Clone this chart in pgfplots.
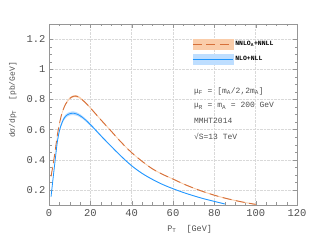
\documentclass[border=0pt]{standalone}
\usepackage{fontspec}
\setmainfont{Liberation Mono}
\usepackage{pgfplots}
\usepackage{pgfplotstable}
\pgfplotsset{compat=1.18}
\usepgfplotslibrary{fillbetween}
\definecolor{orline}{RGB}{214,112,58}
\definecolor{orband}{RGB}{250,205,170}
\definecolor{blline}{RGB}{30,150,255}
\definecolor{blband}{RGB}{190,222,255}
\definecolor{axgray}{RGB}{150,150,150}
\definecolor{txtgray}{RGB}{80,80,80}

\pgfplotstableread{
pt mid err
1 0.290 0.003
2 0.370 0.003
3 0.460 0.004
4 0.560 0.004
5 0.635 0.005
6 0.695 0.005
7 0.737 0.006
8 0.768 0.006
9 0.790 0.006
10 0.806 0.006
11 0.816 0.006
12 0.821 0.006
13 0.822 0.006
14 0.818 0.006
15 0.810 0.006
16 0.799 0.005
18 0.773 0.005
20 0.744 0.005
22 0.713 0.004
24.5 0.674 0.004
27 0.636 0.004
30 0.591 0.004
35 0.515 0.003
40 0.447 0.003
45 0.390 0.003
50 0.340 0.003
55 0.303 0.003
60 0.272 0.003
65 0.240 0.003
70 0.212 0.003
75 0.187 0.003
80 0.165 0.003
85 0.146 0.003
90 0.130 0.003
95 0.116 0.003
100 0.104 0.003
}\orangetab

\pgfplotstableread{
pt mid err
1 0.156 0.004
2 0.280 0.006
3 0.400 0.008
4 0.515 0.010
5 0.590 0.011
6 0.635 0.012
7 0.668 0.012
8 0.688 0.012
9 0.699 0.012
10 0.705 0.012
11 0.708 0.012
12 0.708 0.012
13 0.705 0.012
14 0.700 0.011
15 0.692 0.011
16 0.683 0.010
18 0.660 0.009
20 0.633 0.008
22 0.605 0.007
24.5 0.568 0.006
27 0.532 0.006
30 0.490 0.005
35 0.422 0.005
40 0.360 0.004
45 0.310 0.004
50 0.270 0.004
55 0.236 0.003
60 0.208 0.003
65 0.183 0.003
70 0.161 0.003
75 0.141 0.003
80 0.124 0.003
85 0.107 0.003
}\bluetab

\begin{document}
\begin{tikzpicture}
\begin{axis}[
  at={(49bp,37bp)}, anchor=south west,
  scale only axis, width=248bp, height=181bp,
  xmin=0, xmax=120, ymin=0.1, ymax=1.3,
  xtick={0,20,40,60,80,100,120},
  ytick={0.2,0.4,0.6,0.8,1,1.2},
  minor x tick num=3, minor y tick num=3,
  tick align=inside,
  major tick length=4bp, minor tick length=2.5bp,
  tick style={axgray},
  axis line style={axgray},
  grid=major, grid style={densely dotted, gray!30},
  /pgf/number format/assume math mode=true,
  ticklabel style={font=\fontsize{10.5}{12}\selectfont, text=txtgray},
  xticklabel style={yshift=-1bp},
  xlabel={P\textsubscript{T}\ \ [GeV]},
  xlabel style={font=\fontsize{8.5}{10}\selectfont, text=txtgray, at={(axis description cs:0.567,0)}, anchor=north, yshift=-17bp},
  ylabel={dσ/dp\textsubscript{T}\ \ [pb/GeV]},
  ylabel style={font=\fontsize{8}{10}\selectfont, text=txtgray, at={(axis description cs:-0.146,0.58)}, anchor=center},
  legend style={at={(0.565,0.93)}, anchor=north west, draw=none, fill=none,
    font=\bfseries\fontsize{6.5}{8}\selectfont, row sep=5bp},
  legend cell align=left,
]
\addlegendimage{legend image code/.code={
  \fill[orband] (0bp,-5bp) rectangle (40bp,5bp);
  \draw[orline, line width=1pt, dash pattern=on 9bp off 4.5bp] (0bp,0bp) -- (40bp,0bp);}}
\addlegendentry{NNLO\textsubscript{A}+NNLL}
\addlegendimage{legend image code/.code={
  \fill[blband] (0bp,-5bp) rectangle (40bp,5bp);
  \draw[blline, line width=0.8pt] (0bp,0bp) -- (40bp,0bp);}}
\addlegendentry{NLO+NLL}

\addplot[name path=ohi, draw=none, forget plot, smooth] table[x=pt, y expr=\thisrow{mid}+\thisrow{err}]{\orangetab};
\addplot[name path=olo, draw=none, forget plot, smooth] table[x=pt, y expr=\thisrow{mid}-\thisrow{err}]{\orangetab};
\addplot[orband, forget plot] fill between[of=ohi and olo];
\addplot[name path=bhi, draw=none, forget plot, smooth] table[x=pt, y expr=\thisrow{mid}+\thisrow{err}]{\bluetab};
\addplot[name path=blo, draw=none, forget plot, smooth] table[x=pt, y expr=\thisrow{mid}-\thisrow{err}]{\bluetab};
\addplot[blband, forget plot] fill between[of=bhi and blo];

\addplot[orline, line width=0.9pt, dash pattern=on 9bp off 4.5bp, smooth, forget plot] table[x=pt, y=mid]{\orangetab};
\addplot[blline, line width=0.8pt, smooth, forget plot] table[x=pt, y=mid]{\bluetab};

\node[anchor=west, font=\fontsize{8}{10}\selectfont, text=txtgray] at (axis cs:68.5,0.855) {μ\textsubscript{F} = [m\textsubscript{A}/2,2m\textsubscript{A}]};
\node[anchor=west, font=\fontsize{8}{10}\selectfont, text=txtgray] at (axis cs:68.5,0.756) {μ\textsubscript{R} = m\textsubscript{A} = 200 GeV};
\node[anchor=west, font=\fontsize{8}{10}\selectfont, text=txtgray] at (axis cs:68.5,0.655) {MMHT2014};
\node[anchor=west, font=\fontsize{8}{10}\selectfont, text=txtgray] at (axis cs:68.5,0.557) {√S=13 TeV};
\end{axis}
\pgfresetboundingbox
\path (0bp,0bp) rectangle (331bp,242bp);
\end{tikzpicture}
\end{document}
